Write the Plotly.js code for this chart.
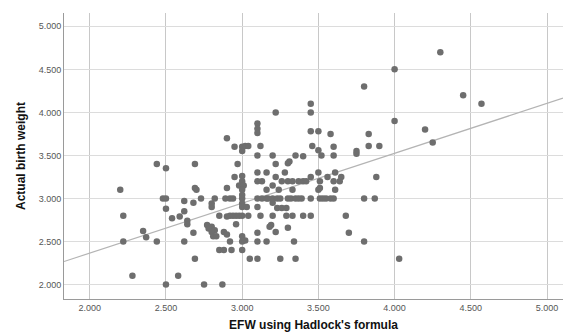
<!DOCTYPE html>
<html>
<head>
<meta charset="utf-8">
<script src="https://cdn.plot.ly/plotly-3.0.1.min.js"></script>
<style>html,body{margin:0;padding:0;background:#fff;}#chart{width:563px;height:332px;}</style>
</head>
<body>
<div id="chart"></div>
<script>
// EFW using Hadlock's formula (x) and actual birth weight (y), in kg
const efw = [
  2.20,2.22,2.22,2.28,2.35,2.37,2.44,2.44,2.50,2.48,2.50,2.50,2.50,2.58,2.54,2.59,2.62,2.62,2.64,2.64,
  2.62,2.68,2.68,2.69,2.69,2.70,2.69,2.75,2.87,2.73,2.80,2.80,2.82,2.77,2.80,2.78,2.82,2.80,2.81,2.83,
  2.85,2.90,2.92,2.94,2.96,2.98,3.00,3.04,2.96,2.88,2.90,2.92,3.00,3.02,3.00,3.10,3.10,3.16,2.85,2.88,
  2.93,3.00,3.05,3.10,3.25,3.35,4.03,2.89,2.92,2.94,3.00,3.00,3.00,3.00,3.03,3.10,3.10,3.13,3.16,2.90,
  2.90,2.95,3.00,3.02,3.04,3.00,3.12,3.10,3.10,3.10,3.10,2.97,3.10,3.16,2.95,3.00,3.00,2.98,3.01,3.10,
  3.13,3.16,3.00,3.22,3.45,3.45,3.80,3.45,3.50,3.58,3.83,3.46,3.50,3.60,3.75,3.75,3.83,3.90,3.52,3.60,
  3.20,3.35,3.40,3.31,3.30,3.22,3.28,3.22,3.50,3.61,3.45,3.56,3.65,3.88,3.26,3.30,3.33,3.37,3.40,3.42,
  3.51,3.60,3.64,3.20,3.24,3.33,3.50,3.51,3.61,3.20,3.23,3.25,3.30,3.32,3.35,3.37,3.39,3.45,3.51,3.53,
  3.55,3.58,3.60,3.80,3.87,3.17,3.20,3.23,3.26,3.29,3.20,3.29,3.33,3.40,3.45,3.68,3.12,3.19,3.18,3.30,
  3.22,3.70,3.34,3.80,4.30,4.00,4.45,4.57,4.00,4.20,4.25
];
const actual = [
  3.10,2.80,2.50,2.10,2.62,2.55,2.50,3.40,3.35,3.00,3.00,2.88,2.00,2.10,2.77,2.79,2.85,2.97,2.74,2.70,
  2.50,2.60,2.95,3.40,3.12,3.10,2.30,2.00,2.00,3.00,2.94,2.90,3.00,2.69,2.67,2.65,2.63,2.61,2.56,2.56,
  2.80,2.79,2.80,2.80,2.80,2.80,2.80,2.80,2.70,2.61,2.58,2.50,2.56,2.51,2.50,2.60,2.50,2.50,2.40,2.40,
  2.40,2.40,2.30,2.30,2.30,2.30,2.30,3.00,3.00,3.00,3.00,3.04,2.94,2.90,2.90,2.90,3.00,3.00,3.00,3.12,
  3.70,3.60,3.60,3.61,3.61,3.55,3.61,3.87,3.81,3.76,3.50,3.40,3.30,3.30,3.25,3.26,3.20,3.15,3.15,3.20,
  3.20,3.10,3.10,4.00,4.10,4.00,4.30,3.78,3.78,3.75,3.75,3.61,3.56,3.60,3.55,3.52,3.61,3.61,3.50,3.50,
  3.50,3.50,3.49,3.43,3.41,3.40,3.30,3.25,3.30,3.30,3.25,3.25,3.25,3.25,3.20,3.20,3.20,3.20,3.20,3.20,
  3.20,3.20,3.20,3.15,3.10,3.10,3.10,3.12,3.10,3.00,3.00,3.00,3.00,3.00,3.00,3.00,3.00,3.00,3.00,3.00,
  3.00,3.00,3.00,3.00,3.00,3.00,2.95,2.89,2.89,2.89,2.80,2.80,2.80,2.80,2.80,2.80,2.80,2.69,2.67,2.66,
  2.61,2.60,2.50,2.50,4.70,4.50,4.20,4.10,3.90,3.80,3.65
];
// Fit line: actual = intercept + slope * efw
const fitIntercept = 1.2045;
const fitSlope = 0.58;
const fitX = [1.831, 5.105];
const fitY = fitX.map(v => fitIntercept + fitSlope * v);

const xTicks = [2.0, 2.5, 3.0, 3.5, 4.0, 4.5, 5.0];
const yTicks = [2.0, 2.5, 3.0, 3.5, 4.0, 4.5, 5.0];
const xTickText = ["2.000","2.500","3.000","3.500","4.000","4.500","5.000"];
const yTickText = ["2.000","2.500","3.000","3.500","4.000","4.500","5.000"];

const traces = [
  {
    x: fitX, y: fitY, type: 'scatter', mode: 'lines',
    line: {color: '#b4b4b4', width: 1.2}, hoverinfo: 'skip', showlegend: false
  },
  {
    x: efw, y: actual, type: 'scatter', mode: 'markers',
    marker: {color: '#6e6e6e', size: 6.5, line: {width: 0}},
    showlegend: false
  }
];

const layout = {
  width: 563, height: 332,
  margin: {l: 64, r: 0, t: 13, b: 33, pad: 0},
  paper_bgcolor: '#ffffff', plot_bgcolor: '#ffffff',
  font: {family: 'Liberation Sans, Arial, sans-serif', color: '#555555', size: 9},
  xaxis: {
    range: [1.831, 5.105], tickvals: xTicks, ticktext: xTickText,
    showgrid: true, gridcolor: '#c8c8c8', gridwidth: 1,
    zeroline: false, showline: true, linecolor: '#9a9a9a', linewidth: 1,
    ticks: '', ticklen: 0, tickfont: {size: 9, color: '#555555'},
    title: {text: "EFW using Hadlock's formula", standoff: 9,
            font: {family: 'Liberation Sans, Arial, sans-serif', size: 12, color: '#111111', weight: 'bold'}}
  },
  yaxis: {
    range: [1.831, 5.155], tickvals: yTicks, ticktext: yTickText,
    showgrid: true, gridcolor: '#dcdcdc', gridwidth: 1,
    zeroline: false, showline: true, linecolor: '#9a9a9a', linewidth: 1,
    ticks: '', ticklen: 0, tickfont: {size: 9, color: '#555555'},
    title: {text: 'Actual birth weight', standoff: 10,
            font: {family: 'Liberation Sans Narrow, Arial Narrow, Liberation Sans, sans-serif', size: 12, color: '#111111', weight: 'bold'}}
  }
};

Plotly.newPlot('chart', traces, layout, {staticPlot: true, displayModeBar: false});
</script>
</body>
</html>
